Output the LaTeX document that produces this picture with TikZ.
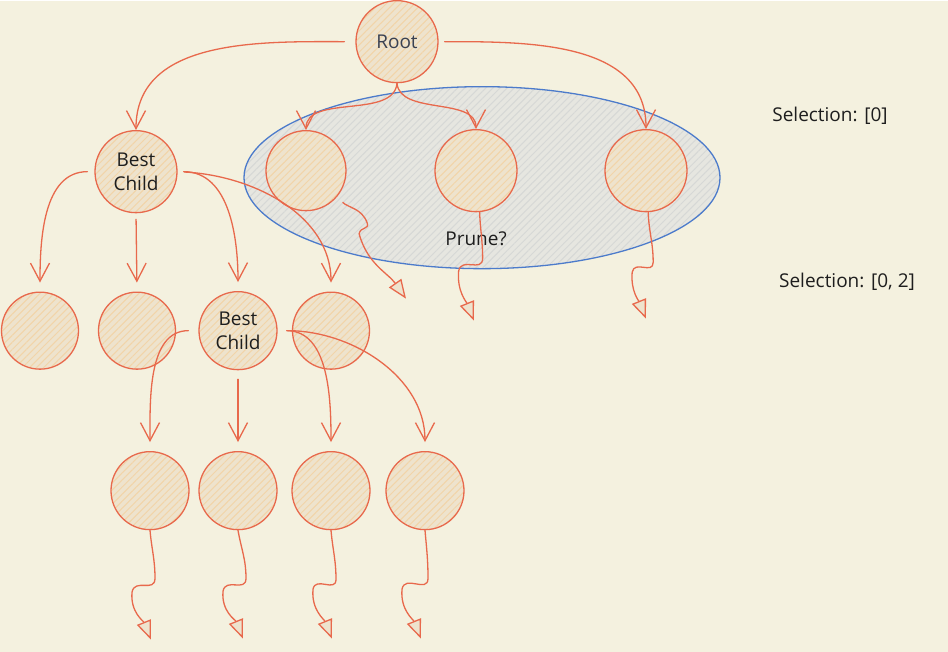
\documentclass[tikz,border=0pt]{standalone}
\usepackage{fontspec}
\setmainfont{Open Sans}
\usetikzlibrary{arrows.meta, patterns.meta, shapes.geometric}
\definecolor{paper}{HTML}{F4F1DF}
\definecolor{edge}{HTML}{E8694C}
\definecolor{nodefill}{HTML}{EEE3CD}
\definecolor{hatch}{HTML}{F2D4A8}
\definecolor{zonefill}{HTML}{E6E6E0}
\definecolor{zonehatch}{HTML}{D6D8D6}
\definecolor{zoneline}{HTML}{4C7BCB}
\definecolor{ink}{HTML}{1E1E1E}
\definecolor{rootink}{HTML}{3A4152}

\begin{document}
\begin{tikzpicture}[x=1pt,y=1pt,cap=round,
    >={Straight Barb[length=18pt,width=19pt]},
    ball/.style={circle, draw=edge, line width=1.3pt, minimum size=80pt, inner sep=0pt,
        preaction={fill=nodefill}, pattern={Lines[angle=45,distance=5pt,line width=1pt]},
        pattern color=hatch, align=center, text=ink, font=\fontsize{19}{24}\selectfont},
    link/.style={->, draw=edge, line width=1.3pt},
    wiggle/.style={-{Triangle[length=19pt,width=15pt,fill=nodefill]}, draw=edge, line width=1.3pt},
    note/.style={text=ink, font=\fontsize{19}{24}\selectfont}]

    % paper and margins
    \fill[paper] (0,0) rectangle (948,-651);

    % region that may be pruned
    \node[ellipse, draw=zoneline, line width=1.3pt, minimum width=476pt, minimum height=182pt,
        preaction={fill=zonefill}, pattern={Lines[angle=45,distance=5pt,line width=1pt]},
        pattern color=zonehatch] (zone) at (482,-177) {};
    \node[note] (prune) at (476,-238) {Prune?};

    % root
    \node[ball, minimum size=82pt, text=rootink] (root) at (397,-41) {Root};

    % first level
    \node[ball, minimum size=82pt] (best1) at (136,-171) {Best\\Child};
    \node[ball] (p1) at (306,-170) {};
    \node[ball, minimum size=82pt] (p2) at (476,-170) {};
    \node[ball, minimum size=82pt] (p3) at (646,-170) {};

    % second level
    \node[ball, minimum size=77pt] (r1) at (40,-330) {};
    \node[ball, minimum size=77pt] (r2) at (137,-330) {};
    \node[ball, minimum size=78pt] (best2) at (238,-330) {Best\\Child};
    \node[ball, minimum size=77pt] (r4) at (331,-330) {};

    % third level
    \node[ball, minimum size=78pt] (l1) at (150,-490) {};
    \node[ball, minimum size=78pt] (l2) at (238,-490) {};
    \node[ball, minimum size=78pt] (l3) at (331,-490) {};
    \node[ball, minimum size=78pt] (l4) at (425,-490) {};

    % selection texts
    \node[note] (sel1) at (830,-115) {Selection: [0]};
    \node[note] (sel2) at (847,-281) {Selection: [0, 2]};

    % root to its children
    \draw[link, shorten <=11pt] (root.west) to[out=180,in=90] (best1.north);
    \draw[link] (root.south) to[out=-95,in=90,looseness=0.9] (p1.north);
    \draw[link] (root.south) to[out=-85,in=90,looseness=0.9] (p2.north);
    \draw[link, shorten <=6pt] (root.east) to[out=0,in=90] (p3.north);

    % best child to the second level
    \draw[link, shorten <=7pt, shorten >=9pt] (best1.west) to[out=180,in=90] (r1.north);
    \draw[link, shorten <=6pt, shorten >=9pt] (best1.south) -- (r2.north);
    \draw[link, shorten <=6pt, shorten >=9pt] (best1.east) to[out=0,in=90] (best2.north);
    \draw[link, shorten <=7pt, shorten >=9pt] (best1.east) to[out=-3,in=90] (r4.north);

    % best child to the third level
    \draw[link, shorten <=10pt, shorten >=9pt] (best2.west) to[out=180,in=90] (l1.north);
    \draw[link, shorten <=9pt, shorten >=9pt] (best2.south) -- (l2.north);
    \draw[link, shorten <=9pt, shorten >=9pt] (best2.east) to[out=0,in=90] (l3.north);
    \draw[link, shorten <=10pt, shorten >=9pt] (best2.east) to[out=0,in=90] (l4.north);

    % loose ends of the pruned nodes
    \coordinate (p1end) at (406,-298);
    \coordinate (p2end) at (474,-320);
    \coordinate (p3end) at (646,-318);
    \draw[wiggle, shorten <=8pt] (p1.-40) to[out=-45,in=110] ++(30,-26)
        to[out=-70,in=80,looseness=1.4] ++(-8,-11) to[out=-75,in=125] (p1end);
    \draw[wiggle] (p2.-85) to[out=-88,in=90] ++(3,-46)
        to[out=-90,in=80,looseness=1.4] ++(-24,-13) to[out=-95,in=112] (p2end);
    \draw[wiggle] (p3.-87) to[out=-88,in=90] ++(5,-50)
        to[out=-90,in=80,looseness=1.4] ++(-21,-10) to[out=-95,in=112] (p3end);

    % loose ends of the third level
    \coordinate (l1end) at (151,-639);
    \coordinate (l2end) at (243,-638);
    \coordinate (l3end) at (332,-638);
    \coordinate (l4end) at (421,-638);
    \draw[wiggle] (l1.south) to[out=-85,in=90] ++(5,-48)
        to[out=-90,in=80,looseness=1.4] ++(-23,-14) to[out=-95,in=112] (l1end);
    \draw[wiggle] (l2.south) to[out=-80,in=90] ++(8,-48)
        to[out=-90,in=80,looseness=1.4] ++(-23,-13) to[out=-95,in=112] (l2end);
    \draw[wiggle] (l3.south) to[out=-85,in=90] ++(5,-49)
        to[out=-90,in=80,looseness=1.4] ++(-23,-10) to[out=-95,in=112] (l3end);
    \draw[wiggle] (l4.south) to[out=-85,in=90] ++(3,-48)
        to[out=-90,in=80,looseness=1.4] ++(-26,-11) to[out=-95,in=112] (l4end);
\end{tikzpicture}
\end{document}
